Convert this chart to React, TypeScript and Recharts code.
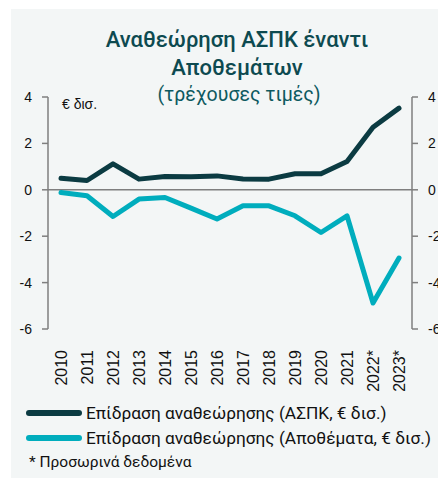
import React from 'react';
import { LineChart, Line, XAxis, YAxis, ReferenceLine } from 'recharts';

const years = ['2010','2011','2012','2013','2014','2015','2016','2017','2018','2019','2020','2021','2022*','2023*'];
const gdpRevision = [0.5, 0.4, 1.12, 0.46, 0.57, 0.56, 0.6, 0.47, 0.46, 0.69, 0.69, 1.22, 2.7, 3.52];
const inventoryRevision = [-0.12, -0.26, -1.15, -0.4, -0.33, -0.79, -1.26, -0.69, -0.69, -1.12, -1.84, -1.12, -4.88, -2.94];
const yTicks = [-6, -4, -2, 0, 2, 4];
const seriesNames = ['Επίδραση αναθεώρησης (ΑΣΠΚ, € δισ.)', 'Επίδραση αναθεώρησης (Αποθέματα, € δισ.)'];
const seriesColors = ['#0b3b42', '#00adbd'];
const titleLines = ['Αναθεώρηση ΑΣΠΚ έναντι', 'Αποθεμάτων'];
const subtitle = '(τρέχουσες τιμές)';
const unitLabel = '€ δισ.';
const footnote = '* Προσωρινά δεδομένα';

const data = years.map((y, i) => ({ year: y, gdp: gdpRevision[i], inv: inventoryRevision[i] }));

const tickFont = '"Liberation Sans", Arial, sans-serif';
const textFont = 'Roboto, "Noto Sans", sans-serif';

const XTick = (props: any) => {
  const { x, y, payload } = props;
  return (
    <text
      x={0}
      y={0}
      transform={`translate(${x + 5.5},${y + 13}) rotate(-90)`}
      textAnchor="end"
      fontFamily={tickFont}
      fontSize={16}
      fill="#111"
    >
      {payload.value}
    </text>
  );
};

export default function App() {
  return (
    <div style={{ position: 'absolute', left: 0, top: 0, width: 438, height: 478, background: '#fff', overflow: 'hidden' }}>
      <div style={{ position: 'absolute', left: 11, top: 9, width: 427, height: 469, background: '#f3f6f6' }} />
      <div style={{ position: 'absolute', left: 0, top: 0 }}>
        <LineChart width={438} height={478} data={data} margin={{ top: 97, right: 0, bottom: 89, left: 0 }}>
          <XAxis
            dataKey="year"
            height={60}
            axisLine={false}
            tickLine={false}
            interval={0}
            padding={{ left: 13, right: 13 }}
            tick={<XTick />}
          />
          <YAxis
            yAxisId="left"
            width={48}
            domain={[-6, 4]}
            ticks={yTicks}
            interval={0}
            stroke="#7f7f7f"
            strokeWidth={1.5}
            tickSize={6}
            tickMargin={10}
            tick={{ fill: '#111', fontSize: 14, fontFamily: tickFont }}
          />
          <YAxis
            yAxisId="right"
            orientation="right"
            width={26}
            domain={[-6, 4]}
            ticks={yTicks}
            interval={0}
            stroke="#7f7f7f"
            strokeWidth={1.5}
            tickSize={6}
            tickMargin={10}
            tick={{ fill: '#111', fontSize: 14, fontFamily: tickFont }}
          />
          <ReferenceLine yAxisId="left" y={0} stroke="#7f7f7f" strokeWidth={1.5} />
          <Line yAxisId="right" type="linear" dataKey="gdp" stroke="none" strokeWidth={0} dot={false} activeDot={false} isAnimationActive={false} legendType="none" />
          <Line yAxisId="left" type="linear" dataKey="gdp" stroke={seriesColors[0]} strokeWidth={5} dot={false} isAnimationActive={false} strokeLinejoin="round" strokeLinecap="round" />
          <Line yAxisId="left" type="linear" dataKey="inv" stroke={seriesColors[1]} strokeWidth={5} dot={false} isAnimationActive={false} strokeLinejoin="round" strokeLinecap="round" />
        </LineChart>
      </div>
      <div style={{ position: 'absolute', left: 0, width: 474, top: 26, textAlign: 'center', fontFamily: textFont, color: '#0d4a50', fontWeight: 500, fontSize: 22, lineHeight: '28px' }}>
        {titleLines.map((t) => (<div key={t}>{t}</div>))}
      </div>
      <div style={{ position: 'absolute', left: 0, width: 478, top: 83, textAlign: 'center', fontFamily: textFont, color: '#0d5a60', fontSize: 19.5, lineHeight: '24px' }}>
        {subtitle}
      </div>
      <div style={{ position: 'absolute', left: 62, top: 96, fontFamily: tickFont, color: '#111', fontSize: 14, lineHeight: '16px' }}>
        {unitLabel}
      </div>
      {seriesNames.map((name, i) => (
        <div key={name} style={{ position: 'absolute', left: 26, top: 402 + i * 24.5, height: 22, display: 'flex', alignItems: 'center', whiteSpace: 'nowrap' }}>
          <div style={{ width: 56, height: 6, borderRadius: 3, background: seriesColors[i], marginRight: 4 }} />
          <span style={{ fontFamily: textFont, fontSize: 17.3, color: '#111' }}>{name}</span>
        </div>
      ))}
      <div style={{ position: 'absolute', left: 29, top: 452, height: 20, lineHeight: '20px', fontFamily: textFont, fontSize: 15.5, color: '#111', whiteSpace: 'nowrap' }}>
        {footnote}
      </div>
    </div>
  );
}
